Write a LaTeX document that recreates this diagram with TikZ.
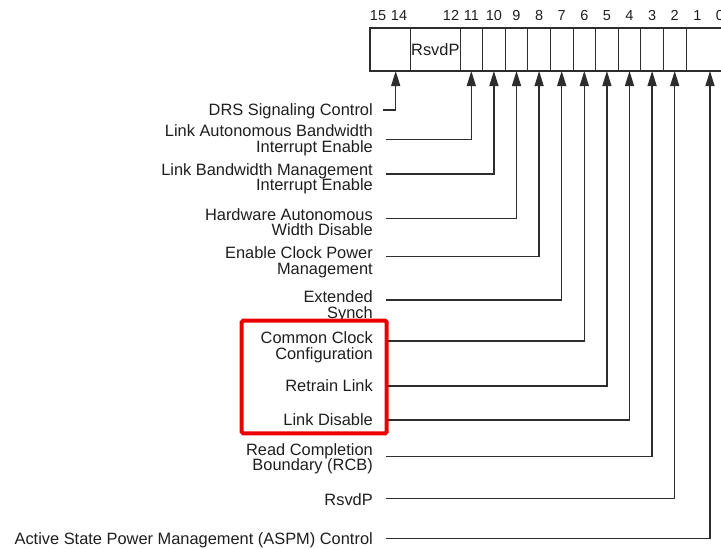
\documentclass[tikz,border=0pt]{standalone}
\usepackage{fontspec}
\setmainfont{Liberation Sans}
\usetikzlibrary{arrows.meta}
\newcommand\labfont{\fontsize{16.4}{15.8}\selectfont}
\newcommand\numfont{\fontsize{14.5}{14.5}\selectfont}
\definecolor{ink}{RGB}{30,30,30}
\definecolor{wire}{RGB}{45,45,45}
\definecolor{hl}{RGB}{235,0,0}
\tikzset{
  lbl/.style={font=\labfont, text=ink, align=right, anchor=base east, inner sep=0pt},
  bitnum/.style={font=\numfont, text=ink, anchor=base, inner sep=0pt},
  cell/.style={draw=wire, line width=1pt, anchor=north west, minimum height=43pt, inner sep=0pt, outer sep=0pt},
  conn/.style={draw=wire, line width=1.3pt, -{Triangle[length=15pt,width=9pt]}},
  highlight/.style={draw=hl, line width=4pt, rounded corners=1.5pt}
}
\begin{document}
\begin{tikzpicture}[x=1pt,y=-1pt]
\clip (0,0) rectangle (721,549);
% register cells
\node[cell, minimum width=40.7pt] (c1514) at (370,28) {};
\node[cell, minimum width=49.3pt, font=\labfont, text=ink] (c1312) at (410.7,28) {RsvdP};
\foreach \b [count=\i from 0] in {11,10,9,8,7,6,5,4,3,2}
  \node[cell, minimum width=22.6pt] (c\b) at ({460+22.6*\i},28) {};
\node[cell, minimum width=45.2pt] (c10b) at (686,28) {};
\draw[wire, line width=1.4pt] (c1514.north west) rectangle (c10b.south east);
% bit numbers
\node[bitnum] (n15) at (378,20) {15};
\node[bitnum] (n14) at (399,20) {14};
\node[bitnum] (n12) at (451,20) {12};
\foreach \b [count=\i from 0] in {11,10,9,8,7,6,5,4,3,2,1,0}
  \node[bitnum] (n\b) at ({471.3+22.6*\i},20) {\b};
% arrow targets
\coordinate (t14) at (395.7,71);
\coordinate (t10) at (710,71);
% labels (base anchor = baseline of last line)
\node[lbl] (l14) at (373,115.7) {DRS Signaling Control};
\node[lbl] (l11) at (373,152.5) {Link Autonomous Bandwidth\\Interrupt Enable};
\node[lbl] (l10) at (373,190.8) {Link Bandwidth Management\\Interrupt Enable};
\node[lbl] (l9) at (373,235.8) {Hardware Autonomous\\Width Disable};
\node[lbl] (l8) at (373,274.1) {Enable Clock Power\\Management};
\node[lbl] (l7) at (373,318.3) {Extended\\Synch};
\node[lbl] (l6) at (373,359.1) {Common Clock\\Configuration};
\node[lbl] (l5) at (373,391) {Retrain Link};
\node[lbl] (l4) at (373,425.7) {Link Disable};
\node[lbl] (l3) at (373,470.8) {Read Completion\\Boundary (RCB)};
\node[lbl] (l2) at (373,505) {RsvdP};
\node[lbl] (l1) at (373,544) {Active State Power Management (ASPM) Control};
% connector starts
\coordinate (s14) at (383,110);
\coordinate (s11) at (386,139.3);
\coordinate (s10) at (386,174);
\coordinate (s9) at (386,218.3);
\coordinate (s8) at (386,256.7);
\coordinate (s7) at (386,300);
\coordinate (s6) at (386,341);
\coordinate (s5) at (386,386);
\coordinate (s4) at (386,420);
\coordinate (s3) at (386,456.7);
\coordinate (s2) at (386,498.3);
\coordinate (s1) at (386,538.3);
% connectors
\draw[conn] (s14) -| (t14);
\draw[conn] (s11) -| (c11.south);
\draw[conn] (s10) -| (c10.south);
\draw[conn] (s9) -| (c9.south);
\draw[conn] (s8) -| (c8.south);
\draw[conn] (s7) -| (c7.south);
\draw[conn] (s6) -| (c6.south);
\draw[conn] (s5) -| (c5.south);
\draw[conn] (s4) -| (c4.south);
\draw[conn] (s3) -| (c3.south);
\draw[conn] (s2) -| (c2.south);
\draw[conn] (s1) -| (t10);
% highlight
\draw[highlight] (241.7,320.7) rectangle (386.7,433.3);
\end{tikzpicture}
\end{document}
